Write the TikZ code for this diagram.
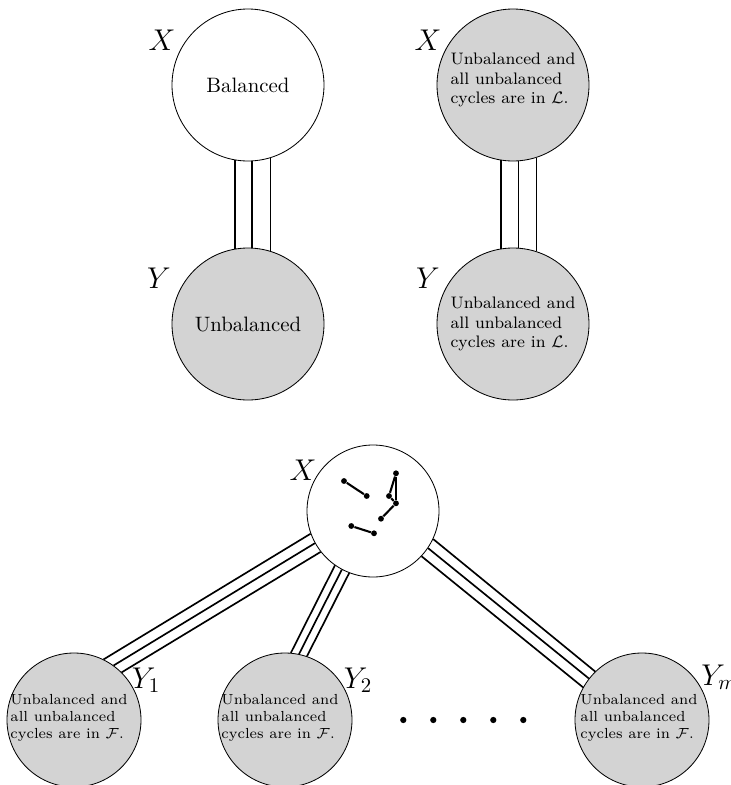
\documentclass[tikz,border=0pt]{standalone}
\definecolor{cgray}{RGB}{211,211,211}
\begin{document}
\begin{tikzpicture}[x=0.48pt,y=-0.48pt,
  topc/.style={circle,draw,line width=0.4pt,inner sep=0pt,minimum size=72.96pt},
  botx/.style={circle,draw,line width=0.4pt,inner sep=0pt,minimum size=63.36pt},
  boty/.style={circle,draw,line width=0.4pt,inner sep=0pt,minimum size=64.32pt,fill=cgray},
  tline/.style={line width=0.8pt},
  ftext/.style={align=left,font=\footnotesize,inner sep=0pt},
  stext/.style={align=left,font=\scriptsize,inner sep=0pt},
  lab/.style={font=\Large,inner sep=0pt},
  gdot/.style={circle,fill,inner sep=0pt,minimum size=2.8pt},
  gedge/.style={line width=1pt},
  rowdot/.style={circle,fill,inner sep=0pt,minimum size=3pt}]
\useasboundingbox (0,0) rectangle (730,785);

% ---- top left
\node[topc] (xa) at (248,85) {Balanced};
\node[topc,fill=cgray] (ya) at (248,324) {Unbalanced};
\node[lab] (lxa) at (162,40) {$X$};
\node[lab] (lya) at (159,278) {$Y$};
\draw[tline] (xa.-100.61) -- (ya.100.61);
\draw[tline] (xa.-87.74) -- (ya.87.74);
\draw[tline] (xa.-73.96) -- (ya.73.96);

% ---- top right
\node[topc,fill=cgray] (xb) at (513,85) {};
\node[topc,fill=cgray] (yb) at (513,324) {};
\node[ftext] (txb) at (513,80) {Unbalanced and\\all unbalanced\\cycles are in $\mathcal{L}$.};
\node[ftext] (tyb) at (513,324) {Unbalanced and\\all unbalanced\\cycles are in $\mathcal{L}$.};
\node[lab] (lxb) at (428,40) {$X$};
\node[lab] (lyb) at (428,278) {$Y$};
\draw[tline] (xb.-99.85) -- (yb.99.85);
\draw[tline] (xb.-86.98) -- (yb.86.98);
\draw[tline] (xb.-72.38) -- (yb.72.38);

% ---- bottom
\node[botx] (xc) at (373,511) {};
\node[lab] (lxc) at (303,470) {$X$};
\node[boty] (y1) at (74,720) {};
\node[boty] (y2) at (285,720) {};
\node[boty] (ym) at (642,720) {};
\node[stext] (t1) at (69,718) {Unbalanced and\\all unbalanced\\cycles are in $\mathcal{F}$.};
\node[stext] (t2) at (280,718) {Unbalanced and\\all unbalanced\\cycles are in $\mathcal{F}$.};
\node[stext] (tm) at (639,718) {Unbalanced and\\all unbalanced\\cycles are in $\mathcal{F}$.};
\node[lab] (ly1) at (146,680) {$Y_1$};
\node[lab] (ly2) at (358,680) {$Y_2$};
\node[lab,anchor=west] (lym) at (701,677) {$Y_m$};

\draw[tline] (xc.200.9) -- (y1.64.0);
\draw[tline] (xc.209.6) -- (y1.54.5);
\draw[tline] (xc.218.3) -- (y1.45.5);
\draw[tline] (xc.235.7) -- (y2.85.4);
\draw[tline] (xc.242.66) -- (y2.78.2);
\draw[tline] (xc.249.6) -- (y2.71.2);
\draw[tline] (xc.335.1) -- (ym.134.1);
\draw[tline] (xc.326.3) -- (ym.142.7);
\draw[tline] (xc.317.6) -- (ym.151.3);

% small graph inside X
\node[gdot] (g1) at (344,481) {};
\node[gdot] (g2) at (366.7,496) {};
\node[gdot] (g3) at (396,473.3) {};
\node[gdot] (g4) at (389,496) {};
\node[gdot] (g5) at (396,503.3) {};
\node[gdot] (g6) at (381,518.7) {};
\node[gdot] (g7) at (351.3,526) {};
\node[gdot] (g8) at (374,533.3) {};
\draw[gedge] (g1) -- (g2);
\draw[gedge] (g3) -- (g4);
\draw[gedge] (g4) -- (g5);
\draw[gedge] (g3) -- (g5);
\draw[gedge] (g5) -- (g6);
\draw[gedge] (g7) -- (g8);

% dots
\node[rowdot] (d1) at (403.3,720) {};
\node[rowdot] (d2) at (433.3,720) {};
\node[rowdot] (d3) at (463.3,720) {};
\node[rowdot] (d4) at (493.3,720) {};
\node[rowdot] (d5) at (523.3,720) {};
\end{tikzpicture}
\end{document}
